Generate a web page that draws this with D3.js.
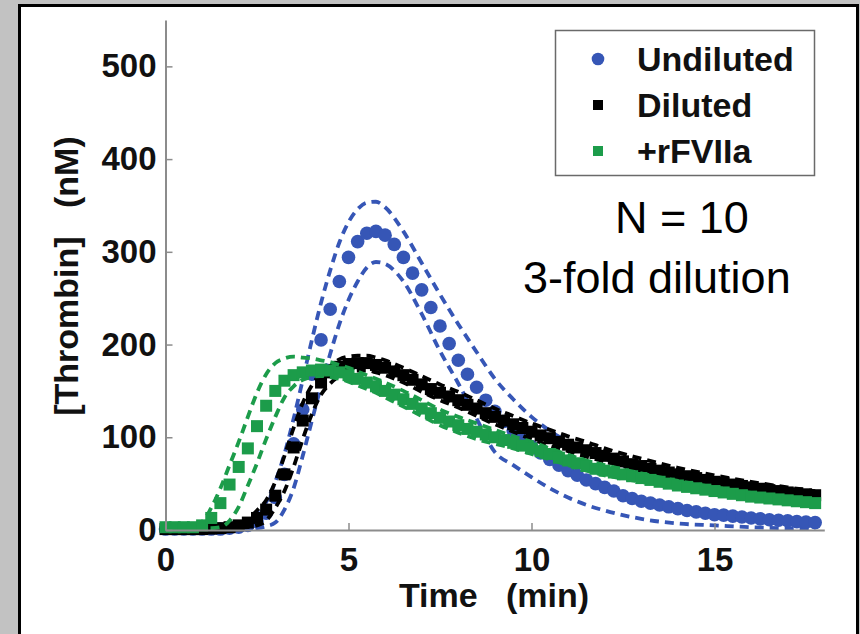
<!DOCTYPE html>
<html>
<head>
    <title>Thrombin generation</title>
    <script src="https://d3js.org/d3.v7.min.js"></script>
    <style>
        body { margin: 0; background: #c2c2c2; }
        svg { display: block; }
        text { font-family: "Liberation Sans", Arial, sans-serif; }
    </style>
</head>
<body>
    <svg id="chart"></svg>
    <script>
        const width = 860;
        const height = 634;

        // sample times of the markers (min)
        const times = [0, 0.25, 0.5, 0.75, 1, 1.25, 1.5, 1.75, 2, 2.25, 2.5, 2.75, 3, 3.25, 3.5, 3.75,
            4, 4.25, 4.5, 4.75, 5, 5.25, 5.5, 5.75, 6, 6.25, 6.5, 6.75, 7, 7.25, 7.5, 7.75,
            8, 8.25, 8.5, 8.75, 9, 9.25, 9.5, 9.75, 10, 10.25, 10.5, 10.75, 11, 11.25, 11.5, 11.75,
            12, 12.25, 12.5, 12.75, 13, 13.25, 13.5, 13.75, 14, 14.25, 14.5, 14.75, 15, 15.25, 15.5, 15.75,
            16, 16.25, 16.5, 16.75, 17, 17.25, 17.5, 17.75];

        // mean thrombin (nM)
        const undiluted = [1, 1, 1, 1, 1, 1, 1, 2, 3, 5, 9, 18, 35, 60, 93, 130,
            168, 205, 238, 268, 294, 311, 320, 322, 318, 308, 294, 277, 259, 240, 220, 201,
            183, 168, 154, 140, 128, 117, 107, 98, 90, 83, 76, 70, 64, 59, 54, 50,
            46, 42, 37, 34, 31, 29, 27, 25, 23, 21, 19.5, 18, 16.5, 16, 15, 14,
            13, 12, 11, 10.5, 10, 9, 8.5, 8];
        const diluted = [1, 1, 1, 1, 1, 1.5, 2, 3, 5, 8, 13, 22, 37, 60, 89, 118,
            142, 159, 170, 176, 179, 180, 180, 178, 175, 171, 167, 162, 157, 152, 148, 144,
            140, 135, 131, 126, 122, 118, 114, 110, 106, 102, 99, 95, 92, 89, 86, 83,
            80, 77, 74, 71, 69, 66, 64, 62, 60, 58, 56, 54, 52, 50.5, 49, 47.5,
            46, 44.5, 43, 42, 40.5, 39.5, 38.5, 37.5];
        const rFVIIa = [3, 3, 3, 3, 5, 13, 29, 49, 68, 88, 112, 134, 150, 161, 167, 170,
            172, 173, 172, 170, 167, 163, 159, 155, 150, 146, 141, 136, 131, 126, 121, 117,
            113, 109, 106, 103, 100, 97, 94, 91, 88, 85, 82, 78, 75, 72, 69, 66,
            64, 62, 60, 58, 56, 54, 52, 50, 48, 46.5, 45, 43.5, 42, 40.5, 39, 37.5,
            36, 35, 34, 33, 32, 31, 30, 29];

        // dashed bands (mean +/- SD), own time grid
        const bandTimes = [0, 0.5, 1, 1.25, 1.5, 1.75, 2, 2.25, 2.5, 2.75, 3, 3.25, 3.5, 3.75,
            4, 4.25, 4.5, 4.75, 5, 5.25, 5.5, 5.75, 6, 6.5, 7, 7.5, 8, 8.5, 9, 9.5,
            10, 10.5, 11, 11.5, 12, 13, 14, 15, 16, 17, 17.75];
        const undilutedUpper = [1, 1, 1, 1, 2, 3, 5, 9, 16, 30, 52, 82, 120, 162,
            205, 245, 280, 310, 332, 346, 353, 354, 348, 322, 288, 254, 222, 192, 163, 141,
            122, 107, 95, 85, 77, 63, 52, 43, 36, 31, 28];
        const undilutedLower = [0, 0, 0, 0, 0, 0, 1, 1, 2, 4, 8, 22, 45, 80,
            118, 155, 190, 222, 248, 268, 283, 289, 287, 268, 233, 193, 158, 120, 84, 70,
            57, 45, 35, 27, 21, 12, 7, 5, 3, 2, 2];
        const dilutedUpper = [1, 1, 1, 2, 3, 4, 7, 12, 21, 32, 52, 80, 110, 137,
            156, 169, 177, 184, 187, 188, 188, 186, 183, 175, 166, 157, 149, 140, 131, 123,
            115, 108, 101, 95, 88, 77, 67, 59, 52, 46, 42];
        const dilutedLower = [0, 0, 0, 0, 1, 1, 2, 3, 5, 10, 24, 42, 68, 98,
            125, 146, 158, 166, 170, 172, 172, 170, 167, 159, 149, 140, 132, 123, 114, 106,
            98, 91, 85, 79, 74, 64, 56, 48, 42, 37, 34];
        const rFVIIaUpper = [4, 4, 9, 24, 45, 70, 95, 122, 148, 168, 180, 185, 187, 186,
            185, 183, 181, 178, 175, 171, 167, 163, 159, 150, 140, 130, 122, 115, 108, 101,
            95, 88, 81, 75, 70, 61, 53, 46, 40, 35, 32];
        const rFVIIaLower = [2, 2, 2, 2, 3, 10, 25, 48, 72, 98, 122, 143, 155, 162,
            165, 166, 165, 163, 160, 156, 152, 148, 143, 133, 123, 113, 105, 98, 93, 88,
            82, 76, 70, 64, 59, 52, 45, 39, 33, 29, 27];

        const xTicks = [0, 5, 10, 15];
        const yTicks = [0, 100, 200, 300, 400, 500];
        const legendLabels = ["Undiluted", "Diluted", "+rFVIIa"];

        const series = [
            { name: "Undiluted", values: undiluted, upper: undilutedUpper, lower: undilutedLower, color: "#3656b6", shape: "circle" },
            { name: "Diluted", values: diluted, upper: dilutedUpper, lower: dilutedLower, color: "#000000", shape: "square" },
            { name: "+rFVIIa", values: rFVIIa, upper: rFVIIaUpper, lower: rFVIIaLower, color: "#1c9c4a", shape: "square" }
        ];

        const svg = d3.select("#chart")
            .attr("width", width)
            .attr("height", height);

        // white panel with black frame
        svg.append("rect")
            .attr("x", 19.5).attr("y", 5.5)
            .attr("width", 838).attr("height", 700)
            .attr("fill", "#fff")
            .attr("stroke", "#000")
            .attr("stroke-width", 3);

        const x = d3.scaleLinear().domain([0, 18]).range([165.5, 824.3]);
        const y = d3.scaleLinear().domain([0, 550]).range([530, 20]);

        const plot = svg.append("g");

        const line = d3.line()
            .x(d => x(d[0]))
            .y(d => y(d[1]))
            .curve(d3.curveMonotoneX);

        series.forEach(s => {
            [s.upper, s.lower].forEach(band => {
                plot.append("path")
                    .datum(bandTimes.map((t, i) => [t, band[i]]))
                    .attr("d", line)
                    .attr("fill", "none")
                    .attr("stroke", s.color)
                    .attr("stroke-width", 3.8)
                    .attr("stroke-dasharray", "9,6");
            });

            const pts = times.map((t, i) => [t, s.values[i]]);
            if (s.shape === "circle") {
                plot.selectAll(null)
                    .data(pts)
                    .enter().append("circle")
                    .attr("cx", d => x(d[0]))
                    .attr("cy", d => y(d[1]))
                    .attr("r", 6.8)
                    .attr("fill", s.color);
            } else {
                plot.selectAll(null)
                    .data(pts)
                    .enter().append("rect")
                    .attr("x", d => x(d[0]) - 6)
                    .attr("y", d => y(d[1]) - 6)
                    .attr("width", 12)
                    .attr("height", 12)
                    .attr("fill", s.color);
            }
        });

        // axes
        const yAxis = svg.append("g")
            .attr("transform", `translate(${x(0)},0)`)
            .call(d3.axisLeft(y).tickValues(yTicks).tickSizeInner(-7).tickSizeOuter(0).tickPadding(9));
        const xAxis = svg.append("g")
            .attr("transform", `translate(0,${y(0)})`)
            .call(d3.axisBottom(x).tickValues(xTicks).tickSizeInner(-7).tickSizeOuter(0).tickPadding(18));

        [xAxis, yAxis].forEach(ax => {
            ax.select(".domain").attr("stroke", "#8c8c8c").attr("stroke-width", 2);
            ax.selectAll(".tick line").attr("stroke", "#8c8c8c").attr("stroke-width", 1.5);
            ax.selectAll(".tick text")
                .attr("font-family", "Liberation Sans, Arial, sans-serif")
                .attr("font-size", 33)
                .attr("font-weight", "bold")
                .attr("fill", "#111");
        });

        // axis titles
        svg.append("text")
            .attr("transform", "translate(78,276) rotate(-90)")
            .attr("text-anchor", "middle")
            .attr("font-size", 34)
            .attr("font-weight", "bold")
            .attr("fill", "#111")
            .style("white-space", "pre")
            .text("[Thrombin]   (nM)");

        svg.append("text")
            .attr("x", 494).attr("y", 607)
            .attr("text-anchor", "middle")
            .attr("font-size", 34)
            .attr("font-weight", "bold")
            .attr("fill", "#111")
            .style("white-space", "pre")
            .text("Time   (min)");

        // legend
        const legend = svg.append("g");
        legend.append("rect")
            .attr("x", 555.5).attr("y", 30.5)
            .attr("width", 259).attr("height", 145)
            .attr("fill", "#fff")
            .attr("stroke", "#6a6a6a")
            .attr("stroke-width", 1.5);

        const rowY = [59, 105, 151];
        legendLabels.forEach((label, i) => {
            const s = series[i];
            if (s.shape === "circle") {
                legend.append("circle")
                    .attr("cx", 598).attr("cy", rowY[i])
                    .attr("r", 6.3)
                    .attr("fill", s.color);
            } else {
                legend.append("rect")
                    .attr("x", 593).attr("y", rowY[i] - 5)
                    .attr("width", 10).attr("height", 10)
                    .attr("fill", s.color);
            }
            legend.append("text")
                .attr("x", 637).attr("y", rowY[i] + 12)
                .attr("font-size", 34)
                .attr("font-weight", "bold")
                .attr("fill", "#111")
                .text(label);
        });

        // annotation
        svg.append("text")
            .attr("x", 615).attr("y", 233)
            .attr("font-size", 45)
            .attr("fill", "#000")
            .text("N = 10");
        svg.append("text")
            .attr("x", 523).attr("y", 293)
            .attr("font-size", 45)
            .attr("fill", "#000")
            .text("3-fold dilution");
    </script>
</body>
</html>
